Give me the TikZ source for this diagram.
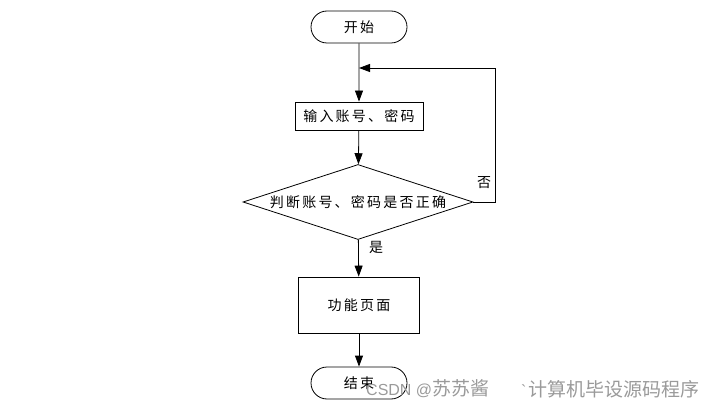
\documentclass[tikz,border=0pt]{standalone}
\usepackage{fontspec}
\usepackage{tikz}
\usetikzlibrary{arrows.meta,positioning,shapes.geometric,shapes.misc}
\newfontfamily\cjk[LetterSpace=16]{Noto Sans CJK SC}
\newfontfamily\cjkmark{Noto Sans CJK SC}
\newfontfamily\latinmark{Liberation Sans}
\definecolor{flowblack}{HTML}{000000}
\definecolor{markgray}{HTML}{9A9A9A}
\tikzset{
  terminal/.style={draw=flowblack, rounded rectangle, line width=0.8pt, minimum width=96pt, minimum height=32pt, inner sep=0pt, font=\cjk\fontsize{14}{16}\selectfont},
  procbox/.style={draw=flowblack, rectangle, line width=0.8pt, inner sep=0pt, font=\cjk\fontsize{14}{16}\selectfont},
  decision/.style={draw=flowblack, diamond, aspect=3.07, line width=0.8pt, minimum width=230pt, minimum height=75pt, inner sep=0pt, font=\cjk\fontsize{14}{16}\selectfont},
  flowline/.style={flowblack, line width=0.8pt, -{Triangle[length=11pt,width=8pt]}},
  flowlabel/.style={inner sep=0pt, font=\cjk\fontsize{14}{16}\selectfont},
  watermark/.style={anchor=west, inner sep=0pt, text=markgray}
}
\begin{document}
\begin{tikzpicture}[x=1pt, y=-1pt]
  \useasboundingbox (0,0) rectangle (721,409);
  \node[terminal] (start) at (359,27) {开始};
  \node[procbox, minimum width=128pt, minimum height=28pt] (input) at (359,116) {输入账号、密码};
  \node[decision] (check) at (358,202) {判断账号、密码是否正确};
  \node[procbox, minimum width=121pt, minimum height=56pt] (func) at (359,305) {功能页面};
  \node[terminal] (stop) at (359,383) {结束};
  \coordinate (join) at (359,68);
  % main flow
  \draw[flowline] (start) -- (input);
  \draw[flowline] (input) -- (check);
  \draw[flowline] (check) -- (func);
  \draw[flowline] (func) -- (stop);
  % loop back when wrong
  \draw[flowline] (check.east) -- ++(22,0) |- (join);
  \node[flowlabel] (nolabel) at (484,183) {否};
  \node[flowlabel] (yeslabel) at (376,247) {是};
  % watermark
  \node[watermark] (mark1) at (366,389) {\latinmark\fontsize{16}{18}\selectfont CSDN @\cjkmark\fontsize{19}{21}\selectfont 苏苏酱};
  \node[watermark] (mark2) at (521,389) {\latinmark\fontsize{16}{18}\selectfont\char96\hspace{2pt}\cjkmark\fontsize{19}{21}\selectfont 计算机毕设源码程序};
\end{tikzpicture}
\end{document}
